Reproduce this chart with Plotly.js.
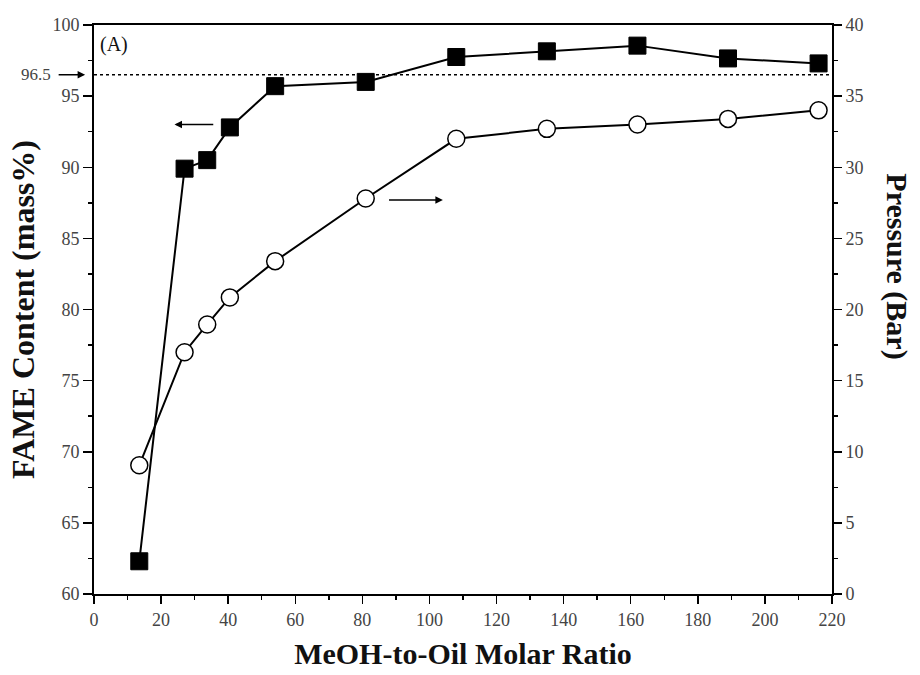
<!DOCTYPE html>
<html>
<head>
<meta charset="utf-8">
<script src="https://cdn.plot.ly/plotly-3.0.1.min.js"></script>
<style>html,body{margin:0;padding:0;background:#fff;}#chart{width:920px;height:675px;}</style>
</head>
<body>
<div id="chart"></div>
<script>
// MeOH-to-oil molar ratio (shared x)
const molarRatio = [13.5, 27, 33.75, 40.5, 54, 81, 108, 135, 162, 189, 216];
// FAME content (mass%), left axis
const fameContent = [62.3, 89.9, 90.5, 92.8, 95.7, 96.0, 97.75, 98.15, 98.55, 97.65, 97.3];
// Pressure (Bar), right axis
const pressure = [9.05, 17.0, 18.95, 20.85, 23.4, 27.8, 32.0, 32.7, 33.0, 33.4, 34.0];
const thresholdFAME = 96.5;
const xTicks = [0, 20, 40, 60, 80, 100, 120, 140, 160, 180, 200, 220];
const yLeftTicks = [60, 65, 70, 75, 80, 85, 90, 95, 100];
const yRightTicks = [0, 5, 10, 15, 20, 25, 30, 35, 40];

const serif = "Liberation Serif, Times New Roman, serif";
const tickFont = {family: serif, size: 18, color: "#444"};
const titleFont = {family: serif, size: 30, color: "#111", weight: "bold"};

const traces = [
  {
    x: molarRatio, y: fameContent, type: "scatter", mode: "lines+markers",
    line: {color: "#000", width: 2},
    marker: {symbol: "square", size: 17, color: "#000", line: {color: "#000", width: 1}},
    yaxis: "y", name: "FAME", cliponaxis: false
  },
  {
    x: molarRatio, y: pressure, type: "scatter", mode: "lines+markers",
    line: {color: "#000", width: 2},
    marker: {symbol: "circle", size: 17, color: "#fff", line: {color: "#000", width: 1.5}},
    yaxis: "y2", name: "Pressure", cliponaxis: false
  }
];

const layout = {
  width: 920, height: 675,
  margin: {l: 94, r: 88, t: 25, b: 81},
  paper_bgcolor: "#fff", plot_bgcolor: "#fff",
  showlegend: false,
  xaxis: {
    range: [0, 220], tickvals: xTicks, ticktext: xTicks.map(String),
    ticks: "outside", ticklen: 8, tickwidth: 1.5, tickcolor: "#000",
    minor: {dtick: 10, ticks: "outside", ticklen: 4, tickwidth: 1.5, tickcolor: "#000"},
    showline: true, linecolor: "#000", linewidth: 2, mirror: true,
    showgrid: false, zeroline: false, tickfont: tickFont,
    title: {text: "MeOH-to-Oil Molar Ratio", font: titleFont, standoff: 14}
  },
  yaxis: {
    range: [60, 100], tickvals: yLeftTicks, ticktext: yLeftTicks.map(String),
    ticks: "outside", ticklen: 9, tickwidth: 1.5, tickcolor: "#000",
    minor: {dtick: 2.5, ticks: "outside", ticklen: 4, tickwidth: 1.5, tickcolor: "#000"},
    showline: true, linecolor: "#000", linewidth: 2,
    showgrid: false, zeroline: false, tickfont: tickFont,
    title: {text: "FAME Content (mass%)", font: {family: serif, size: 32, color: "#111", weight: "bold"}, standoff: 8}
  },
  yaxis2: {
    overlaying: "y", side: "right",
    range: [0, 40], tickvals: yRightTicks, ticktext: yRightTicks.map(String),
    ticks: "outside", ticklen: 8, tickwidth: 1.5, tickcolor: "#000",
    minor: {dtick: 2.5, ticks: "outside", ticklen: 4, tickwidth: 1.5, tickcolor: "#000"},
    showline: true, linecolor: "#000", linewidth: 2,
    showgrid: false, zeroline: false, tickfont: tickFont
  },
  shapes: [
    {type: "line", xref: "paper", x0: 0, x1: 1, yref: "y", y0: thresholdFAME, y1: thresholdFAME,
     line: {color: "#000", width: 1.5, dash: "dot"}}
  ],
  annotations: [
    {xref: "paper", yref: "paper", x: 0.006, y: 0.965, xanchor: "left", yanchor: "middle",
     text: "(A)", showarrow: false, font: {family: serif, size: 20, color: "#111"}},
    {xref: "paper", yref: "y", x: -0.102, y: thresholdFAME, xanchor: "left", yanchor: "middle",
     text: "96.5", showarrow: false, font: {family: serif, size: 17, color: "#444"}},
    {xref: "paper", yref: "y", x: -0.012, y: thresholdFAME, text: "", showarrow: true,
     ax: -28, ay: 0, arrowhead: 2, arrowsize: 1, arrowwidth: 1.5, arrowcolor: "#000"},
    {xref: "x", yref: "y", x: 24, y: 93, axref: "x", ayref: "y", ax: 36, ay: 93,
     text: "", showarrow: true, arrowhead: 2, arrowsize: 1, arrowwidth: 1.5, arrowcolor: "#000"},
    {xref: "x", yref: "y2", x: 104, y: 27.7, axref: "x", ayref: "y2", ax: 87.5, ay: 27.7,
     text: "", showarrow: true, arrowhead: 2, arrowsize: 1, arrowwidth: 1.5, arrowcolor: "#000"},
    {xref: "paper", yref: "paper", x: 1.088, y: 0.576, xanchor: "center", yanchor: "middle",
     text: "Pressure (Bar)", textangle: 90, showarrow: false, font: titleFont}
  ]
};

Plotly.newPlot("chart", traces, layout, {displayModeBar: false, staticPlot: true});
</script>
</body>
</html>
